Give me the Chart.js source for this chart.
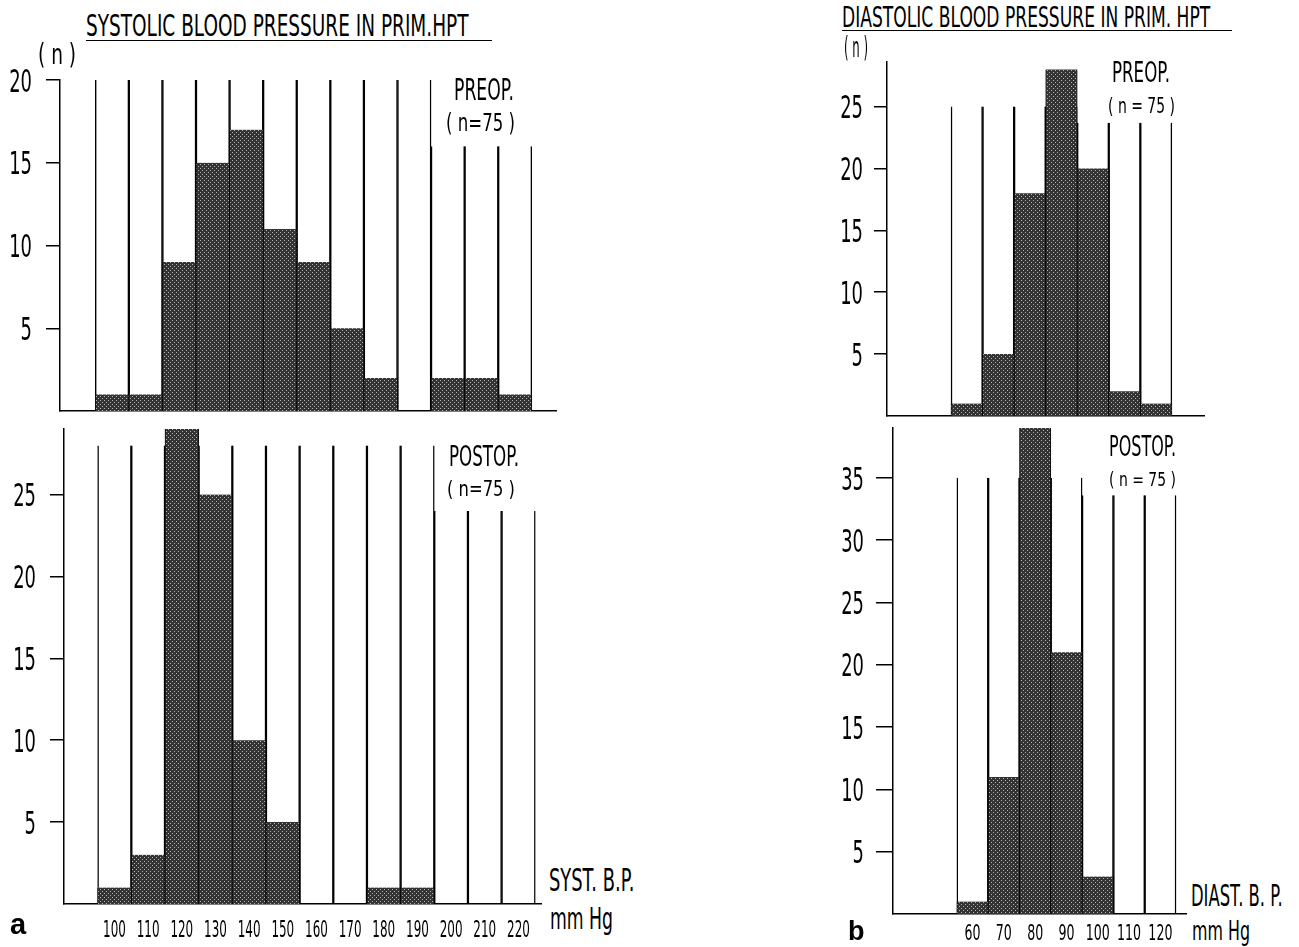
<!DOCTYPE html>
<html lang="en">
<head>
<meta charset="UTF-8">
<title>Systolic and diastolic blood pressure in prim. HPT</title>
<style>
  html, body { margin: 0; padding: 0; background: #fff; }
  body { width: 1299px; height: 947px; position: relative; overflow: hidden; }
  canvas { position: absolute; }
  .lbl { position: absolute; white-space: nowrap; color: #000; transform-origin: 0 0; }
  .rule { position: absolute; height: 0; border-top: 1.5px solid #000; }
</style>
<script src="https://cdn.jsdelivr.net/npm/chart.js"></script>
</head>
<body>
<canvas id="sysPre"></canvas>
<canvas id="sysPost"></canvas>
<canvas id="diaPre"></canvas>
<canvas id="diaPost"></canvas>

<script>
// blood pressure classes (mmHg)
const systBins = [100, 110, 120, 130, 140, 150, 160, 170, 180, 190, 200, 210, 220];
const diastBins = [60, 70, 80, 90, 100, 110, 120];

// number of patients per class (n = 75 each)
const systPreop   = [1, 1, 9, 15, 17, 11, 9, 5, 2, 0, 2, 2, 1];
const systPostop  = [1, 3, 29, 25, 10, 5, 0, 0, 1, 1, 0, 0, 0];
const diastPreop  = [1, 5, 18, 28, 20, 2, 1];
const diastPostop = [1, 11, 39, 21, 3, 0, 0];

// height of the thin column rules drawn between the classes
const systPreopGuide   = [20, 20, 20, 20, 20, 20, 20, 20, 20, 20, 16, 16, 16];
const systPostopGuide  = [28, 28, 28, 28, 28, 28, 28, 28, 28, 28, 24, 24, 24];
const diastPreopGuide  = [25, 25, 25, 25, 23.7, 23.7, 23.7];
const diastPostopGuide = [35, 35, 35, 35, 33.6, 33.6, 33.6];

// y tick labels
const systPreopTicks   = [5, 10, 15, 20];
const systPostopTicks  = [5, 10, 15, 20, 25];
const diastPreopTicks  = [5, 10, 15, 20, 25];
const diastPostopTicks = [5, 10, 15, 20, 25, 30, 35];

const FONT = "'DejaVu Sans', sans-serif";

// dark halftone screen like the printed bars
function halftone() {
  const c = document.createElement('canvas');
  c.width = 4; c.height = 4;
  const g = c.getContext('2d');
  g.fillStyle = '#333333';
  g.fillRect(0, 0, 4, 4);
  g.fillStyle = '#b4b4b4';
  g.fillRect(0, 0, 1, 1);
  g.fillRect(2, 2, 1, 1);
  return g.createPattern(c, 'repeat');
}
const screen = halftone();

const edges = { left: 0.8, right: 0.8, top: 0, bottom: 0 };

// the print uses a very condensed face, so tick labels are drawn squeezed
// at the positions given by the chart's own scales
const squeezeTicks = {
  id: 'squeezeTicks',
  afterDraw(chart, args, o) {
    const ctx = chart.ctx;
    const ys = chart.scales.y;
    const xs = chart.scales.x;
    ctx.save();
    ctx.fillStyle = '#000';
    ctx.textBaseline = 'alphabetic';

    ctx.font = o.ySize + 'px ' + FONT;
    ctx.textAlign = 'right';
    ys.ticks.forEach(t => {
      ctx.save();
      ctx.translate(ys.right - o.yGap, ys.getPixelForValue(t.value) + 0.729 * o.ySize / 2);
      ctx.scale(o.ySqueeze, 1);
      ctx.fillText(String(t.value), 0, 0);
      ctx.restore();
    });

    if (o.xShow) {
      ctx.font = o.xSize + 'px ' + FONT;
      ctx.textAlign = 'center';
      xs.ticks.forEach(t => {
        ctx.save();
        ctx.translate(xs.getPixelForValue(t.value), xs.top + o.xGap + 0.729 * o.xSize);
        ctx.scale(o.xSqueeze, 1);
        ctx.fillText(String(t.value), 0, 0);
        ctx.restore();
      });
    }
    ctx.restore();
  }
};

function drawPanel(p) {
  const padTop = 20;
  const cv = document.getElementById(p.id);
  const w = p.axisW + (p.right - p.left);
  const h = padTop + (p.bottom - p.top) + p.axisH;
  cv.width = w; cv.height = h;
  cv.style.width = w + 'px'; cv.style.height = h + 'px';
  cv.style.left = (p.left - p.axisW) + 'px';
  cv.style.top = (p.top - padTop) + 'px';

  new Chart(cv, {
    type: 'bar',
    data: {
      datasets: [
        {
          data: p.bins.map((b, i) => ({ x: b, y: p.counts[i] })),
          backgroundColor: screen,
          borderColor: '#000',
          borderWidth: edges,
          borderSkipped: false,
          grouped: false,
          barPercentage: 1,
          categoryPercentage: 1,
          order: 0
        },
        {
          data: p.bins.map((b, i) => ({ x: b, y: p.guide[i] })),
          backgroundColor: 'rgba(0,0,0,0)',
          borderColor: '#000',
          borderWidth: edges,
          borderSkipped: false,
          grouped: false,
          barPercentage: 1,
          categoryPercentage: 1,
          order: 1
        }
      ]
    },
    plugins: [squeezeTicks],
    options: {
      responsive: false,
      animation: false,
      devicePixelRatio: 1,
      events: [],
      layout: { padding: { top: padTop, left: 0, right: 0, bottom: 0 } },
      plugins: {
        legend: { display: false },
        tooltip: { enabled: false },
        squeezeTicks: {
          ySize: 32, ySqueeze: 0.56, yGap: p.yGap,
          xShow: p.xLabels, xSize: p.xFont, xSqueeze: p.xSqueeze, xGap: p.xGap
        }
      },
      scales: {
        x: {
          type: 'linear',
          min: p.xMin,
          max: p.xMax,
          offset: false,
          grid: { display: false, drawTicks: false },
          border: { display: true, color: '#000', width: 1.5 },
          afterBuildTicks: s => { s.ticks = p.bins.map(v => ({ value: v })); },
          afterFit: s => { s.height = p.axisH; },
          ticks: { display: false }
        },
        y: {
          type: 'linear',
          min: 0,
          max: p.yMax,
          grid: { drawOnChartArea: false, color: '#000', lineWidth: 1.5, tickLength: p.tickLen, tickWidth: 1.5 },
          border: { display: true, color: '#000', width: 1.5 },
          afterBuildTicks: s => { s.ticks = p.yTicks.map(v => ({ value: v })); },
          afterFit: s => { s.width = p.axisW; },
          ticks: { display: false }
        }
      }
    }
  });
}

drawPanel({ id: 'sysPre', left: 60, top: 80, right: 557, bottom: 411, axisW: 60, axisH: 20,
  xMin: 84.5, xMax: 232.5, yMax: 20, bins: systBins, counts: systPreop, guide: systPreopGuide,
  yTicks: systPreopTicks, tickLen: 14, yGap: 28, xLabels: false });
drawPanel({ id: 'sysPost', left: 64, top: 429, right: 542, bottom: 904, axisW: 64, axisH: 40,
  xMin: 85, xMax: 227, yMax: 29, bins: systBins, counts: systPostop, guide: systPostopGuide,
  yTicks: systPostopTicks, tickLen: 14, yGap: 28, xLabels: true, xFont: 23, xSqueeze: 0.52, xGap: 16 });
drawPanel({ id: 'diaPre', left: 887, top: 62, right: 1205, bottom: 416, axisW: 60, axisH: 20,
  xMin: 34.7, xMax: 135.5, yMax: 28.6, bins: diastBins, counts: diastPreop, guide: diastPreopGuide,
  yTicks: diastPreopTicks, tickLen: 13, yGap: 24, xLabels: false });
drawPanel({ id: 'diaPost', left: 893, top: 428, right: 1187, bottom: 914, axisW: 60, axisH: 34,
  xMin: 34.6, xMax: 128.5, yMax: 39, bins: diastBins, counts: diastPostop, guide: diastPostopGuide,
  yTicks: diastPostopTicks, tickLen: 17, yGap: 29, xLabels: true, xFont: 21, xSqueeze: 0.6, xGap: 11 });

// free text of the figure, squeezed to the width it has in the print
const meas = document.createElement('canvas').getContext('2d');
function label(text, left, capTop, width, size, family, weight) {
  family = family || FONT;
  weight = weight || 'normal';
  const d = document.createElement('div');
  d.className = 'lbl';
  d.textContent = text;
  d.style.font = weight + ' ' + size + 'px/' + size + 'px ' + family;
  d.style.left = left + 'px';
  d.style.top = (capTop - 0.1175 * size) + 'px';
  if (width) {
    meas.font = weight + ' ' + size + 'px ' + family;
    d.style.transform = 'scaleX(' + (width / meas.measureText(text).width) + ')';
  }
  document.body.appendChild(d);
}
function rule(left, top, width) {
  const r = document.createElement('div');
  r.className = 'rule';
  r.style.left = left + 'px';
  r.style.top = top + 'px';
  r.style.width = width + 'px';
  document.body.appendChild(r);
}

label('SYSTOLIC  BLOOD  PRESSURE  IN  PRIM.HPT', 86, 14, 406, 31);
rule(86, 40, 406);
label('( n )', 38, 44, 38, 28);
label('PREOP.', 454, 79, 60, 30);
label('( n=75 )', 446, 114, 69, 24);
label('POSTOP.', 449, 445, 70, 29);
label('( n=75 )', 447, 481, 68, 22);
label('SYST.  B.P.', 549, 868, 91, 32);
label('mm Hg', 550, 908, 63, 30);
label('a', 10, 913, null, 29, "'Liberation Sans', Arial, sans-serif", 'bold');

label('DIASTOLIC  BLOOD  PRESSURE  IN  PRIM. HPT', 842, 6, 390, 29);
rule(842, 30, 390);
label('( n )', 844, 37, 24, 28);
label('PREOP.', 1112, 61, 58, 29);
label('( n = 75 )', 1108, 98, 67, 22);
label('POSTOP.', 1109, 435, 67, 29);
label('( n = 75 )', 1109, 471, 67, 20);
label('DIAST.  B. P.', 1191, 885, 97, 30);
label('mm Hg', 1192, 921, 58, 26);
label('b', 848, 921, null, 27, "'Liberation Sans', Arial, sans-serif", 'bold');
</script>
</body>
</html>
